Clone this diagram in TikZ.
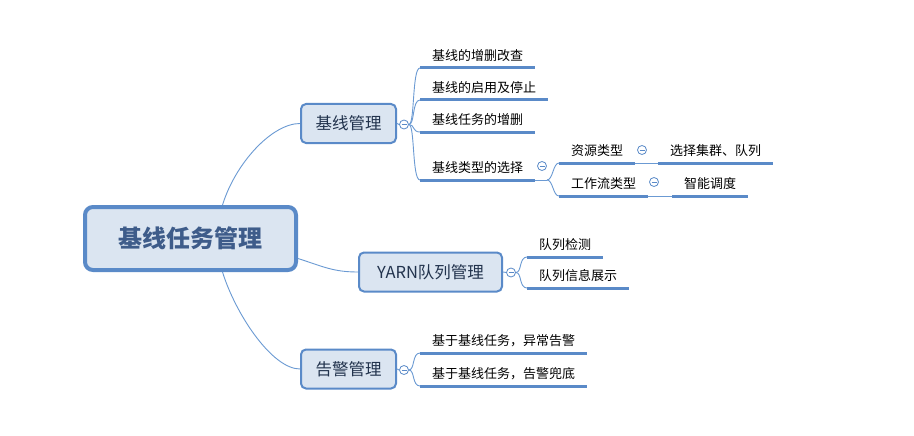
\documentclass[tikz,border=0pt]{standalone}
\usepackage{fontspec}
\setmainfont{Noto Sans CJK SC}
\usetikzlibrary{calc}
\definecolor{bord}{HTML}{5A8AC8}
\definecolor{boxfill}{HTML}{DBE5F1}
\definecolor{connc}{HTML}{6B9AD3}
\definecolor{ctext}{HTML}{3E5C8A}
\definecolor{ltext}{HTML}{22334D}
\begin{document}
\begin{tikzpicture}[x=1pt,y=-1pt,
 root/.style={draw=bord, line width=4pt, fill=boxfill, rounded corners=8pt, minimum width=211pt, minimum height=63pt, font=\fontsize{24}{28}\selectfont\bfseries, text=ctext},
 topic/.style={draw=bord, line width=2pt, fill=boxfill, rounded corners=5pt, minimum height=39pt, font=\fontsize{16.5}{20}\selectfont, text=ltext},
 leaf/.style={anchor=south west, inner xsep=12pt, inner ysep=0pt, text height=11pt, text depth=7pt, font=\fontsize{13}{16}\selectfont, text=black},
 uline/.style={draw=bord, line width=3pt},
 conn/.style={draw=connc, line width=0.9pt},
 fold/.style={circle, draw=bord, fill=white, line width=0.8pt, minimum size=9pt, inner sep=0pt,
   path picture={\draw[bord, line width=0.8pt] ($(path picture bounding box.center)+(-2.5pt,0)$) -- ($(path picture bounding box.center)+(2.5pt,0)$);}},
]
\fill[white] (0,0) rectangle (914,436);
\useasboundingbox (0,0) rectangle (914,436);

% main nodes
\node[root] (root) at (190.5,238.5) {基线任务管理};
\node[topic, minimum width=95pt] (t1) at (348.5,123.5) {基线管理};
\node[topic, minimum width=143pt] (t2) at (430.5,272) {YARN队列管理};
\node[topic, minimum width=95pt] (t3) at (348.5,369) {告警管理};

% leaves
\node[leaf] (a1) at (420,68) {基线的增删改查};
\node[leaf] (a2) at (420,100) {基线的启用及停止};
\node[leaf] (a3) at (420,132) {基线任务的增删};
\node[leaf] (a4) at (420,180) {基线类型的选择};
\node[leaf] (b1) at (559,163) {资源类型};
\node[leaf] (b2) at (559,196) {工作流类型};
\node[leaf] (c1) at (658,163) {选择集群、队列};
\node[leaf] (c2) at (672,196) {智能调度};
\node[leaf] (d1) at (527,257) {队列检测};
\node[leaf] (d2) at (527,288) {队列信息展示};
\node[leaf, minimum width=167pt] (e1) at (420,353) {基于基线任务，异常告警};
\node[leaf, minimum width=167pt] (e2) at (420,386) {基于基线任务，告警兜底};

\foreach \n in {a1,a2,a3,a4,b1,b2,c1,c2,d1,d2,e1,e2}
  \draw[uline] (\n.south west) -- (\n.south east);

% central connectors
\coordinate (r1) at ($(root.north)+(32,0)$);
\coordinate (r2) at ($(root.east)+(0,20)$);
\coordinate (r3) at ($(root.south)+(32,0)$);
\draw[conn] (r1) .. controls +(13,-42) and +(-28,0) .. (t1.west);
\draw[conn] (r2) .. controls +(25,8) and +(-25,0) .. (t2.west);
\draw[conn] (r3) .. controls +(13,42) and +(-28,0) .. (t3.west);

% fold markers
\node[fold] (f1) at (404,124.5) {};
\node[fold] (f2) at (511,272.5) {};
\node[fold] (f3) at (404,370) {};

\draw[conn] (t1.east) -- (f1.west);
\draw[conn] (t2.east) -- (f2.west);
\draw[conn] (t3.east) -- (f3.west);

\foreach \n in {a1,a2,a3,a4}
  \draw[conn] (f1.east) .. controls +(6,0) and +(-8,0) .. (\n.south west);
\foreach \n in {d1,d2}
  \draw[conn] (f2.east) .. controls +(6,0) and +(-8,0) .. (\n.south west);
\foreach \n in {e1,e2}
  \draw[conn] (f3.east) .. controls +(6,0) and +(-8,0) .. (\n.south west);

\coordinate (j4) at (547,180);
\draw[conn] (a4.south east) -- (j4);
\draw[conn] (j4) .. controls +(6,0) and +(-6,0) .. (b1.south west);
\draw[conn] (j4) .. controls +(6,0) and +(-6,0) .. (b2.south west);
\draw[conn] (b1.south east) -- (c1.south west);
\draw[conn] (b2.south east) -- (c2.south west);

\node[fold] (f11) at (542,166) {};
\node[fold] (f111) at (642,150) {};
\node[fold] (f112) at (654,182) {};
\end{tikzpicture}
\end{document}
